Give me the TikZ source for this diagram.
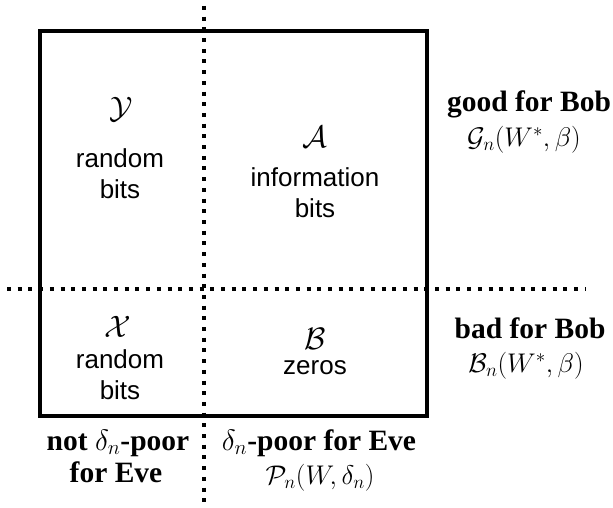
\RequirePackage{fix-cm}
\documentclass[tikz,border=0pt]{standalone}
\usepackage{fontspec}
\setmainfont{Liberation Serif}
\newfontfamily\arialfont{Liberation Sans}

\begin{document}
\begin{tikzpicture}[x=1pt,y=-1pt,
    cell/.style={font=\arialfont\fontsize{26}{29}\selectfont, inner sep=0pt},
    cellset/.style={font=\fontsize{31}{34}\selectfont, inner sep=0pt},
    set/.style={font=\fontsize{27}{30}\selectfont, inner sep=0pt},
    side/.style={font=\bfseries\fontsize{29.5}{32}\selectfont, inner sep=0pt},
    dotline/.style={line width=4pt, dash pattern=on 4pt off 6.7pt}]
    \useasboundingbox (0,0) rectangle (613,508);

    % outer box and the two dotted splits
    \draw[line width=4pt] (40,31) rectangle (427,416);
    \coordinate (vtop) at (204,6);
    \coordinate (vbot) at (204,508);
    \coordinate (hleft) at (7,289);
    \coordinate (hright) at (585,289);
    \draw[dotline] (vtop) -- (vbot);
    \draw[dotline] (hleft) -- (hright);

    % cells
    \node[cellset] (Yset) at (121,109) {$\mathcal{Y}$};
    \node[cell] (Yrand) at (120,158) {random};
    \node[cell] (Ybits) at (120,189) {bits};
    \node[cellset] (Aset) at (315,137) {$\mathcal{A}$};
    \node[cell] (Ainfo) at (315,177) {information};
    \node[cell] (Abits) at (315,208) {bits};
    \node[cellset] (Xset) at (118,327) {$\mathcal{X}$};
    \node[cell] (Xrand) at (120,359) {random};
    \node[cell] (Xbits) at (120,390) {bits};
    \node[cellset] (Bset) at (315,339) {$\mathcal{B}$};
    \node[cell] (Bzero) at (315,368) {zeros};

    % labels on the right
    \node[side] (good) at (529,104) {good for Bob};
    \node[set] (goodset) at (524,140) {$\mathcal{G}_n(W^*,\beta)$};
    \node[side] (bad) at (530,328) {bad for Bob};
    \node[set] (badset) at (526,366) {$\mathcal{B}_n(W^*,\beta)$};

    % labels below
    \node[side] (notpoor) at (118,443) {not $\delta_n$-poor};
    \node[side] (noteve) at (116,472) {for Eve};
    \node[side] (poor) at (319,443) {$\delta_n$-poor for Eve};
    \node[set] (poorset) at (320,478) {$\mathcal{P}_n(W,\delta_n)$};
\end{tikzpicture}
\end{document}
